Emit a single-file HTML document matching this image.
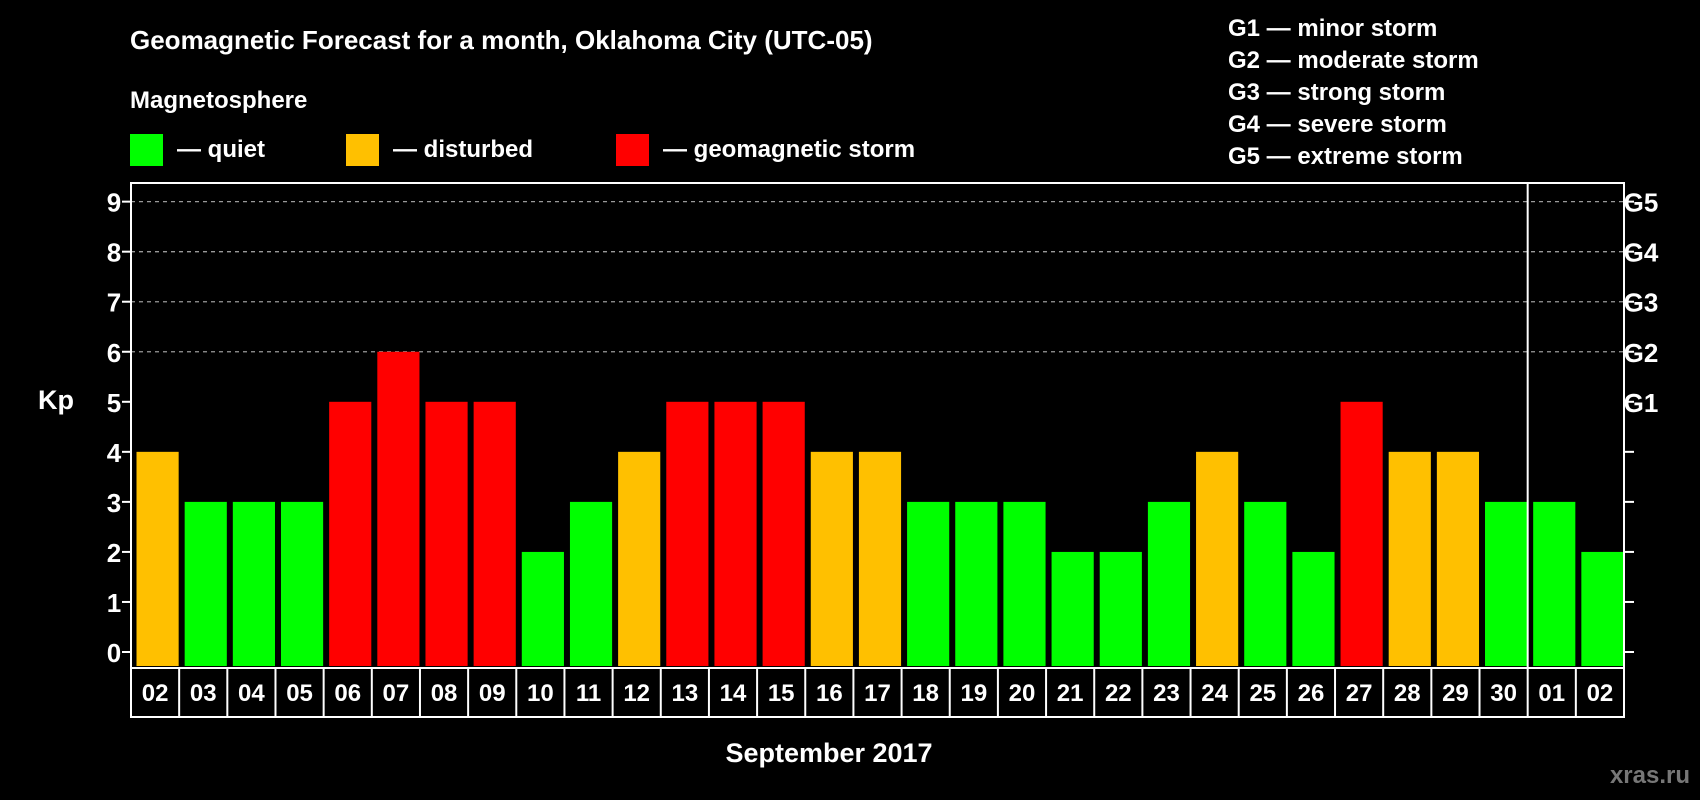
<!DOCTYPE html>
<html><head><meta charset="utf-8"><style>
body{margin:0;background:#000;}
svg{display:block;font-family:"Liberation Sans",sans-serif;font-weight:bold;}
</style></head><body>
<svg id="chart" width="1700" height="800" viewBox="0 0 1700 800">
<rect width="1700" height="800" fill="#000"/>
<text x="130" y="49" fill="#fff" font-size="26">Geomagnetic Forecast for a month, Oklahoma City (UTC-05)</text>
<text x="130" y="108" fill="#fff" font-size="24">Magnetosphere</text>
<g><rect x="130" y="134" width="33" height="32" fill="#00ff00"/><text x="177" y="157" fill="#fff" font-size="24">— quiet</text></g>
<g><rect x="346" y="134" width="33" height="32" fill="#ffc000"/><text x="393" y="157" fill="#fff" font-size="24">— disturbed</text></g>
<g><rect x="616" y="134" width="33" height="32" fill="#ff0000"/><text x="663" y="157" fill="#fff" font-size="24">— geomagnetic storm</text></g>
<g fill="#fff" font-size="24">
<text x="1228" y="36">G1 — minor storm</text>
<text x="1228" y="68">G2 — moderate storm</text>
<text x="1228" y="100">G3 — strong storm</text>
<text x="1228" y="132">G4 — severe storm</text>
<text x="1228" y="164">G5 — extreme storm</text>
</g>
<g id="grid"></g><g id="bars"></g><g id="axes"></g>
<text x="56" y="409" fill="#fff" font-size="27" text-anchor="middle">Kp</text>
<text x="829" y="762" fill="#fff" font-size="27" text-anchor="middle">September 2017</text>
<text x="1690" y="783" fill="#777" font-size="24" text-anchor="end">xras.ru</text>
</svg>
<script>
const days=["02","03","04","05","06","07","08","09","10","11","12","13","14","15","16","17","18","19","20","21","22","23","24","25","26","27","28","29","30","01","02"];
const kp=[4,3,3,3,5,6,5,5,2,3,4,5,5,5,4,4,3,3,3,2,2,3,4,3,2,5,4,4,3,3,2];
const yTicks=[0,1,2,3,4,5,6,7,8,9];
const gLabels={5:"G1",6:"G2",7:"G3",8:"G4",9:"G5"};
const NS="http://www.w3.org/2000/svg";
const L=131,R=1624,T=183,B=668,colW=(R-L)/days.length;
const y=v=>652-v*50.04, x=i=>L+i*colW;
function mk(tag,at,parent){const e=document.createElementNS(NS,tag);for(const k in at)e.setAttribute(k,at[k]);parent.appendChild(e);return e;}
const grid=document.getElementById('grid'),bars=document.getElementById('bars'),axes=document.getElementById('axes');
yTicks.forEach(v=>{
  if(v>=6){const g=mk('line',{x1:L,x2:R,y1:y(v),y2:y(v),stroke:'#999','stroke-width':1.3,'stroke-dasharray':'4,4'},grid);
  
  }
  mk('line',{x1:L-9,x2:L,y1:y(v),y2:y(v),stroke:'#fff','stroke-width':2},axes);
  mk('line',{x1:R,x2:R+10,y1:y(v),y2:y(v),stroke:'#fff','stroke-width':2},axes);
  const t=mk('text',{x:114,y:y(v)+10,fill:'#fff','font-size':26,'text-anchor':'middle'},axes);t.textContent=v;
  
  
  if(gLabels[v]){const g=mk('text',{x:1641,y:y(v)+10,fill:'#fff','font-size':26,'text-anchor':'middle'},axes);g.textContent=gLabels[v];
  
  }
});
kp.forEach((v,i)=>{
  const c=v>=5?'#ff0000':v==4?'#ffc000':'#00ff00';
  const r=mk('rect',{x:x(i)+5.5,y:y(v),width:colW-6,height:y(0)+7-y(v)-7+7,fill:c},bars);
  r.setAttribute('height',(B-2)-y(v));
  
  
  const t=mk('text',{x:x(i)+colW/2,y:701,fill:'#fff','font-size':24,'text-anchor':'middle'},axes);t.textContent=days[i];
  
  
  if(i>0)mk('line',{x1:x(i),x2:x(i),y1:B,y2:717,stroke:'#fff','stroke-width':2},axes);
});
mk('rect',{x:L,y:T,width:R-L,height:B-T,fill:'none',stroke:'#fff','stroke-width':2},axes);
mk('rect',{x:L,y:B,width:R-L,height:717-B,fill:'none',stroke:'#fff','stroke-width':2},axes);
mk('line',{x1:x(29),x2:x(29),y1:T,y2:B,stroke:'#fff','stroke-width':2},axes);
</script>
</body></html>
